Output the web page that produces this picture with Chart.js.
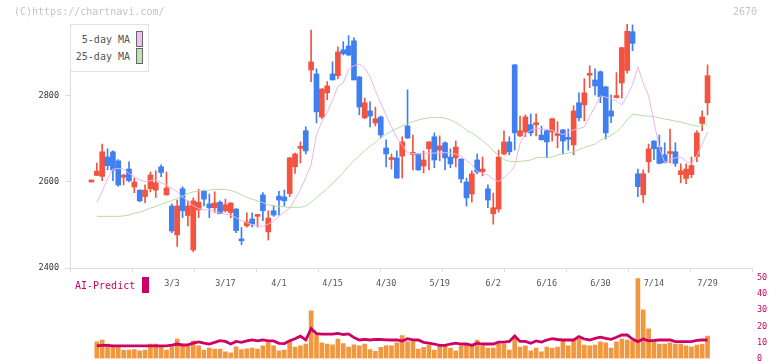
<!DOCTYPE html>
<html><head><meta charset="utf-8">
<script src="https://cdn.jsdelivr.net/npm/chart.js@4.4.1/dist/chart.umd.min.js"></script>
<style>
html,body{margin:0;padding:0;background:#fff;}
#wrap{position:relative;width:772px;height:361px;overflow:hidden;font-family:"DejaVu Sans Mono",monospace;}
canvas{position:absolute;left:0;top:0;}
.t{position:absolute;white-space:pre;line-height:12px;}
</style></head><body>
<div id="wrap">
<canvas id="vol" width="772" height="361"></canvas>
<canvas id="price" width="772" height="361"></canvas>
<div class="t" style="left:14px;top:6px;font-size:10px;color:#c4c4c4;">(C)https://chartnavi.com/</div>
<div class="t" style="left:733px;top:6px;font-size:10px;color:#c4c4c4;">2670</div>
<div style="position:absolute;left:70px;top:24px;width:79px;height:48px;box-sizing:border-box;border:1px solid #e2e2e2;background:#fff;"></div>
<div class="t" style="right:642px;top:34px;font-size:10px;color:#555;text-align:right;">5-day MA</div>
<div class="t" style="right:642px;top:51px;font-size:10px;color:#555;text-align:right;">25-day MA</div>
<div style="position:absolute;left:136px;top:31px;width:7px;height:16px;box-sizing:border-box;border:1px solid #666;background:#efc0ef;"></div>
<div style="position:absolute;left:136px;top:48px;width:7px;height:16px;box-sizing:border-box;border:1px solid #666;background:#c2e2b4;"></div>
<div class="t" style="left:75px;top:280px;font-size:10px;color:#cc0066;">AI-Predict</div>
<div style="position:absolute;left:142px;top:277px;width:7px;height:16px;background:#cc0066;"></div>
<div id="warn" class="t" style="left:300px;top:150px;font-size:14px;color:red;"></div>
</div>
<script>
const dates = ['2/6','2/7','2/10','2/12','2/13','2/14','2/17','2/18','2/19','2/20','2/21','2/25','2/26','2/27','2/28',
'3/3','3/4','3/5','3/6','3/7','3/10','3/11','3/12','3/13','3/14','3/17','3/18','3/19','3/21','3/24','3/25','3/26','3/27','3/28','3/31',
'4/1','4/2','4/3','4/4','4/7','4/8','4/9','4/10','4/11','4/14','4/15','4/16','4/17','4/18','4/21','4/22','4/23','4/24','4/25','4/28','4/30',
'5/1','5/7','5/8','5/9','5/12','5/13','5/14','5/15','5/16','5/19','5/20','5/21','5/22','5/23','5/26','5/27','5/28','5/29','5/30',
'6/2','6/3','6/4','6/5','6/6','6/9','6/10','6/11','6/12','6/13','6/16','6/17','6/18','6/19','6/20','6/23','6/24','6/25','6/26','6/27','6/30',
'7/1','7/2','7/3','7/4','7/7','7/8','7/9','7/10','7/11','7/14','7/15','7/16','7/17','7/18','7/22','7/23','7/24','7/25','7/28','7/29'];
const labelDates = ['3/3','3/17','4/1','4/15','4/30','5/19','6/2','6/16','6/30','7/14','7/29'];

const open = [2600,2615,2613,2658,2670,2649,2611,2630,2588,2581, 2566,2584,2581,2635,2570,2544,2477,2584,2522,2442, 2535,2579,2549,2540,2553,2533,2529,2537,2467,2498, 2514,2520,2570,2484,2533,2567,2565,2573,2635,2678, 2719,2860,2851,2751,2807,2851,2847,2907,2916,2928, 2844,2749,2765,2737,2751,2679,2652,2656,2660,2730, 2664,2665,2637,2677,2705,2674,2691,2658,2656,2653, 2600,2572,2651,2624,2584,2526,2537,2665,2693,2872, 2707,2716,2733,2733,2709,2719,2716,2708,2721,2702, 2686,2784,2779,2848,2837,2856,2821,2765,2796,2830, 2859,2949,2619,2570,2647,2695,2680,2663,2666,2670, 2617,2608,2617,2659,2736,2784];
const high = [2600,2644,2688,2677,2672,2652,2618,2647,2609,2582, 2593,2623,2626,2640,2623,2549,2558,2589,2556,2563, 2583,2581,2572,2577,2556,2560,2552,2538,2494,2528, 2528,2522,2575,2533,2545,2578,2581,2657,2667,2693, 2728,2953,2863,2817,2833,2879,2914,2926,2940,2935, 2845,2795,2786,2774,2753,2698,2665,2672,2705,2814, 2709,2666,2672,2694,2714,2707,2693,2677,2695,2654, 2609,2626,2665,2658,2593,2574,2674,2719,2705,2873, 2753,2756,2758,2758,2730,2720,2748,2740,2722,2723, 2777,2807,2840,2870,2863,2858,2822,2802,2854,2913, 2967,2965,2630,2628,2688,2696,2709,2691,2723,2691, 2642,2642,2658,2719,2765,2872];
const low = [2600,2615,2603,2628,2603,2590,2593,2600,2575,2554, 2552,2577,2564,2612,2569,2482,2450,2517,2498,2438, 2517,2544,2517,2529,2526,2530,2517,2482,2454,2495, 2495,2495,2510,2465,2520,2523,2544,2566,2620,2644, 2665,2833,2737,2747,2791,2837,2840,2895,2893,2837, 2756,2747,2728,2730,2702,2635,2630,2609,2609,2701, 2628,2627,2621,2628,2633,2649,2628,2633,2635,2598, 2544,2553,2619,2614,2540,2502,2530,2663,2663,2674, 2705,2705,2707,2707,2697,2656,2695,2679,2665,2674, 2663,2742,2742,2819,2802,2784,2700,2738,2795,2795, 2853,2905,2566,2552,2622,2652,2642,2644,2644,2636, 2598,2596,2610,2647,2719,2756];
const close = [2600,2625,2670,2638,2628,2593,2614,2603,2600,2556, 2581,2616,2598,2622,2586,2486,2544,2533,2544,2556, 2553,2560,2540,2551,2526,2547,2551,2487,2463,2507, 2502,2521,2533,2516,2523,2558,2556,2656,2665,2680, 2672,2879,2763,2816,2823,2837,2902,2898,2895,2837, 2774,2784,2753,2747,2709,2665,2655,2609,2693,2702, 2666,2628,2651,2693,2651,2684,2656,2642,2681,2607, 2563,2619,2623,2630,2558,2540,2658,2693,2670,2714, 2719,2751,2714,2737,2698,2693,2747,2711,2695,2699, 2765,2749,2807,2850,2823,2798,2714,2753,2800,2912, 2950,2922,2589,2619,2677,2677,2643,2645,2670,2643, 2626,2630,2638,2714,2751,2847];
const ma5 = [null, 2553,2578,2608,2630,2631,2630,2620,2612,2605, 2601,2603,2605,2598,2593,2585,2577,2565,2555,2545, 2538,2535,2535,2532,2528,2525,2522,2517,2510,2505, 2501,2498,2497,2502,2509,2520,2530,2539,2560,2582, 2610,2640,2710,2740,2761,2790,2822,2830,2862,2870, 2874,2865,2845,2812,2783,2755,2728,2703,2685,2668, 2666,2665,2666,2667,2667,2668,2668,2667,2665,2660, 2650,2640,2624,2620,2616,2606,2601,2610,2622,2637, 2690,2712,2720,2725,2724,2722,2720,2714,2710,2715, 2721,2724,2728,2752,2775,2800,2797,2794,2788,2779, 2800,2826,2867,2830,2800,2740,2680,2645,2651,2656, 2658,2648,2643,2660,2688,2716];
const ma25 = [null, 2520,2520,2520,2520,2520,2521,2523,2527,2530, 2534,2539,2543,2548,2552,2557,2561,2567,2573,2577, 2579,2580,2581,2582,2583,2582,2580,2576,2570,2564, 2560,2556,2552,2547,2544,2543,2542,2541,2541,2541, 2544,2553,2564,2574,2585,2596,2609,2622,2637,2650, 2661,2673,2683,2692,2703,2711,2718,2724,2730,2735, 2740,2744,2747,2749,2750,2750,2748,2744,2738,2730, 2720,2714,2705,2696,2686,2672,2662,2652,2648,2647, 2648,2649,2651,2656,2657,2657,2658,2663,2665,2667, 2670,2675,2680,2684,2688,2697,2703,2708,2716,2728, 2745,2757,2756,2754,2753,2752,2749,2746,2744,2741, 2739,2736,2732,2730,2730,2736];
const volume = [null, 10.4,11.5,9.0,7.6,7.4,5.0,5.3,5.5,4.8, 5.3,9.0,9.0,7.8,5.3,7.4,12.1,8.3,8.1,10.9, 7.9,5.3,6.4,5.8,5.8,4.2,3.5,7.2,5.5,6.0, 6.5,5.9,7.8,9.9,7.8,4.7,5.3,10.9,7.1,7.8, 9.0,29.6,14.6,9.7,9.0,8.5,12.1,9.2,7.1,8.5, 7.8,9.0,5.6,4.5,7.0,8.1,7.8,9.7,14.2,10.4, 10.4,5.9,7.0,8.4,5.3,7.8,7.8,6.5,4.7,7.8, 8.4,7.8,11.5,7.8,6.5,6.5,9.0,9.0,5.3,14.0, 7.1,7.8,4.7,6.5,4.1,7.1,6.5,7.1,10.9,7.8, 10.9,12.1,8.4,7.8,8.4,10.3,9.7,6.5,10.3,12.1, 11.5,10.9,49.6,30.2,18.4,10.9,9.0,9.0,9.7,9.0, 9.0,7.8,7.2,8.4,9.0,14.0];
const aiPredict = [null, 7.8,8.1,8.1,7.8,7.8,7.8,7.8,7.8,7.8, 7.8,7.8,7.8,7.8,7.8,8.3,9.0,8.4,8.5,9.5, 10.3,9.5,9.0,10.0,11.1,10.6,9.0,10.6,10.0,11.0, 11.5,10.9,11.5,10.9,10.9,9.4,9.3,11.0,12.3,13.9, 11.5,18.6,15.5,15.1,15.1,15.1,15.6,14.9,15.3,13.0, 11.5,11.9,11.5,11.9,11.8,11.6,11.5,11.5,10.9,12.3, 11.5,11.5,10.0,9.5,9.0,8.2,8.2,9.0,9.5,9.0, 9.0,8.2,9.5,9.0,9.0,9.0,10.2,10.2,10.6,14.0, 10.6,10.6,9.5,10.9,10.2,11.5,12.3,11.8,11.5,11.5, 11.5,13.6,12.1,11.5,12.5,13.2,12.5,11.9,13.2,14.6, 14.6,12.1,10.5,12.1,11.0,11.2,11.5,11.5,11.5,10.5, 10.5,10.5,10.5,11.2,11.5,11.5];
const priceTicks = [2400, 2600, 2800];
const volTicks = [0, 10, 20, 30, 40, 50];

const N = dates.length;
const bad = Object.entries({open,high,low,close,ma5,ma25,volume,aiPredict}).filter(([k,a])=>a.length!==N).map(([k,a])=>k+':'+a.length);
if (bad.length) document.getElementById('warn').textContent = 'LEN ' + bad.join(' ');

const UP = '#f4533f', DOWN = '#3f7ff0';
const colors = close.map((c,i)=> c >= open[i] ? UP : DOWN);
const idx = dates.map((d,i)=>i);
const labelIdx = labelDates.map(d=>dates.indexOf(d));
const X_MIN = -4.01, X_MAX = 123.3, GRID_DIV = 11;
const FONT = 'DejaVu Sans Mono';

new Chart(document.getElementById('price'), {
  type: 'bar',
  data: { datasets: [
    { type:'bar', data: idx.map(i=>({x:i, y:[low[i], high[i]]})), backgroundColor: colors, barThickness: 1, grouped:false, order: 4 },
    { type:'bar', data: idx.map(i=>({x:i, y:[open[i], close[i]]})), backgroundColor: colors, barThickness: 5, minBarLength: 2, grouped:false, order: 3 },
    { type:'line', data: idx.map(i=>({x:i, y:ma25[i]})), borderColor:'#b6dca6', borderWidth:1, pointRadius:0, order: 2 },
    { type:'line', data: idx.map(i=>({x:i, y:ma5[i]})), borderColor:'#ecb4ec', borderWidth:1, pointRadius:0, order: 1 }
  ]},
  options: {
    responsive:false, animation:false, devicePixelRatio:1,
    layout: { padding: { left:0, right:20, top:24, bottom:63 } },
    plugins: { legend:{display:false}, tooltip:{enabled:false} },
    scales: {
      x: {
        type:'linear', min:X_MIN, max:X_MAX, offset:false,
        afterBuildTicks: ax => {
          const span = (X_MAX - X_MIN) / GRID_DIV;
          const g = Array.from({length:GRID_DIV+1}, (_,k)=>({value: X_MIN + k*span, gridTick:true}));
          ax.ticks = g.concat(labelIdx.map(v=>({value:v})));
        },
        afterFit: ax => { ax.height = 30; ax.paddingLeft = 0; ax.paddingRight = 0; },
        grid: { offset:false, drawOnChartArea:false, tickLength:4,
                color: c => (c.tick && c.tick.gridTick) ? '#dddddd' : 'rgba(0,0,0,0)',
                tickColor: c => (c.tick && c.tick.gridTick) ? '#dddddd' : 'rgba(0,0,0,0)' },
        border: { display:true, color:'#dddddd' },
        ticks: { autoSkip:false, maxRotation:0, padding:7, color:'#555', font:{family:FONT, size:8.5},
                 callback: (v, i, ticks) => ticks[i].gridTick ? '' : dates[v] }
      },
      y: {
        min:2400, max: Math.max(...high),
        afterBuildTicks: ax => { ax.ticks = priceTicks.map(v=>({value:v})); },
        afterFit: ax => { ax.width = 70; ax.paddingTop = 0; ax.paddingBottom = 0; },
        grid: { drawOnChartArea:false, tickLength:5, color:'#dddddd' },
        border: { display:true, color:'#dddddd' },
        ticks: { padding:6, color:'#333', font:{family:FONT, size:8.5}, callback: v => String(v) }
      }
    }
  }
});

new Chart(document.getElementById('vol'), {
  type: 'bar',
  data: { datasets: [
    { type:'line', data: idx.map(i=>({x:i, y:aiPredict[i]})), borderColor:'#cc0066', borderWidth:2.8, pointRadius:0, order:1 },
    { type:'bar', data: idx.map(i=>({x:i, y:volume[i]})), backgroundColor:'#f1973f', barThickness:4, grouped:false, order:2 }
  ]},
  options: {
    responsive:false, animation:false, devicePixelRatio:1,
    layout: { padding: { left:70, right:0, top:278, bottom:2.5 } },
    plugins: { legend:{display:false}, tooltip:{enabled:false} },
    scales: {
      x: { type:'linear', display:false, min:X_MIN, max:X_MAX, offset:false },
      y: {
        position:'right', min:0, max:50,
        afterBuildTicks: ax => { ax.ticks = volTicks.map(v=>({value:v})); },
        afterFit: ax => { ax.width = 20; ax.paddingTop = 0; ax.paddingBottom = 0; },
        grid: { display:false, drawTicks:false },
        border: { display:false },
        ticks: { padding:5, color:'#cc0066', font:{family:FONT, size:8.5}, callback: v => String(v) }
      }
    }
  }
});
</script>
</body></html>
